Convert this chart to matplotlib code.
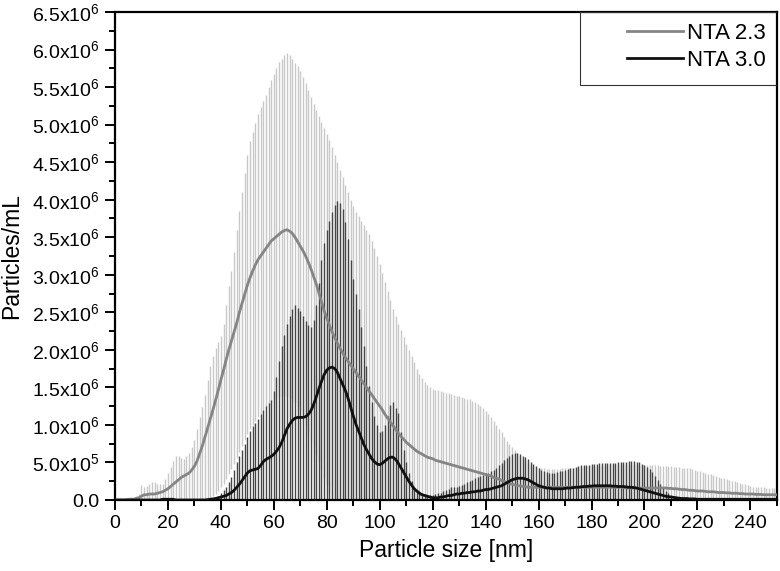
import numpy as np
import matplotlib
matplotlib.use("Agg")
import matplotlib.pyplot as plt
from matplotlib.ticker import MultipleLocator
from matplotlib.patches import Rectangle

plt.rcParams['font.family'] = ['Liberation Sans', 'DejaVu Sans']
plt.rcParams['mathtext.fontset'] = 'custom'
plt.rcParams['mathtext.rm'] = 'Liberation Sans'
plt.rcParams['mathtext.it'] = 'Liberation Sans'

# particle size, nm (one reading per nm)
size_nm = np.arange(0, 251)

# all concentrations below in 1e6 particles/mL
# NTA 2.3: mean curve
nta23_mean = [
    0, 0, 0, 0, 0, 0.01, 0.01, 0.01, 0.02, 0.03,
    0.05, 0.07, 0.07, 0.08, 0.08, 0.08, 0.09, 0.10, 0.11, 0.13,
    0.15, 0.18, 0.21, 0.24, 0.27, 0.30, 0.32, 0.34, 0.36, 0.40,
    0.45, 0.52, 0.62, 0.72, 0.84, 0.96, 1.08, 1.20, 1.33, 1.46,
    1.60, 1.73, 1.87, 2.00, 2.12, 2.24, 2.36, 2.50, 2.62, 2.74,
    2.86, 2.96, 3.05, 3.13, 3.20, 3.25, 3.30, 3.35, 3.40, 3.45,
    3.48, 3.51, 3.54, 3.57, 3.59, 3.60, 3.58, 3.55, 3.50, 3.44,
    3.38, 3.32, 3.25, 3.17, 3.08, 2.98, 2.88, 2.76, 2.64, 2.52,
    2.42, 2.33, 2.24, 2.16, 2.09, 2.02, 1.96, 1.90, 1.85, 1.80,
    1.75, 1.70, 1.65, 1.60, 1.55, 1.50, 1.45, 1.40, 1.35, 1.30,
    1.25, 1.20, 1.14, 1.09, 1.04, 0.99, 0.94, 0.89, 0.85, 0.81,
    0.77, 0.74, 0.71, 0.68, 0.65, 0.63, 0.61, 0.59, 0.57, 0.56,
    0.55, 0.53, 0.52, 0.51, 0.50, 0.49, 0.48, 0.47, 0.46, 0.45,
    0.44, 0.43, 0.42, 0.41, 0.40, 0.39, 0.38, 0.37, 0.36, 0.35,
    0.34, 0.33, 0.32, 0.30, 0.29, 0.28, 0.26, 0.25, 0.23, 0.22,
    0.21, 0.20, 0.19, 0.19, 0.18, 0.18, 0.17, 0.17, 0.17, 0.17,
    0.17, 0.17, 0.17, 0.17, 0.17, 0.17, 0.17, 0.17, 0.17, 0.17,
    0.17, 0.17, 0.17, 0.17, 0.17, 0.17, 0.17, 0.17, 0.17, 0.17,
    0.17, 0.17, 0.17, 0.17, 0.17, 0.17, 0.17, 0.17, 0.17, 0.17,
    0.17, 0.17, 0.17, 0.16, 0.16, 0.16, 0.16, 0.16, 0.16, 0.16,
    0.16, 0.16, 0.16, 0.16, 0.16, 0.16, 0.16, 0.16, 0.16, 0.155,
    0.155, 0.15, 0.15, 0.145, 0.14, 0.14, 0.135, 0.13, 0.13, 0.125,
    0.12, 0.12, 0.12, 0.115, 0.11, 0.11, 0.11, 0.105, 0.10, 0.10,
    0.10, 0.095, 0.095, 0.09, 0.09, 0.09, 0.085, 0.085, 0.08, 0.08,
    0.08, 0.08, 0.075, 0.075, 0.075, 0.07, 0.07, 0.07, 0.07, 0.07,
    0.07,
]
# NTA 2.3: top of error bar
nta23_high = [
    0, 0, 0, 0, 0, 0.03, 0.04, 0.04, 0.05, 0.08,
    0.20, 0.18, 0.19, 0.22, 0.24, 0.24, 0.22, 0.21, 0.22, 0.28,
    0.36, 0.44, 0.52, 0.58, 0.58, 0.56, 0.55, 0.58, 0.62, 0.70,
    0.80, 0.95, 1.10, 1.24, 1.40, 1.60, 1.78, 1.92, 2.02, 2.10,
    2.18, 2.35, 2.60, 2.85, 3.05, 3.30, 3.60, 3.85, 4.10, 4.35,
    4.60, 4.78, 4.90, 5.02, 5.14, 5.24, 5.32, 5.40, 5.50, 5.60,
    5.68, 5.76, 5.83, 5.88, 5.93, 5.95, 5.93, 5.88, 5.82, 5.78,
    5.72, 5.64, 5.56, 5.46, 5.37, 5.28, 5.20, 5.11, 5.03, 4.95,
    4.87, 4.79, 4.70, 4.60, 4.50, 4.40, 4.30, 4.20, 4.10, 4.00,
    3.92, 3.84, 3.78, 3.72, 3.66, 3.60, 3.54, 3.45, 3.35, 3.25,
    3.14, 3.02, 2.90, 2.78, 2.66, 2.55, 2.45, 2.35, 2.26, 2.17,
    2.08, 2.00, 1.92, 1.84, 1.75, 1.68, 1.62, 1.57, 1.53, 1.50,
    1.48, 1.47, 1.46, 1.45, 1.44, 1.43, 1.42, 1.41, 1.40, 1.39,
    1.38, 1.37, 1.36, 1.35, 1.34, 1.32, 1.30, 1.28, 1.25, 1.22,
    1.18, 1.14, 1.10, 1.05, 1.00, 0.95, 0.90, 0.84, 0.79, 0.74,
    0.70, 0.66, 0.62, 0.58, 0.55, 0.52, 0.49, 0.47, 0.45, 0.44,
    0.43, 0.42, 0.42, 0.41, 0.41, 0.41, 0.41, 0.41, 0.41, 0.42,
    0.42, 0.42, 0.43, 0.43, 0.43, 0.44, 0.44, 0.44, 0.44, 0.45,
    0.45, 0.45, 0.45, 0.45, 0.45, 0.45, 0.46, 0.46, 0.46, 0.46,
    0.46, 0.46, 0.46, 0.46, 0.46, 0.46, 0.46, 0.46, 0.46, 0.46,
    0.46, 0.46, 0.46, 0.46, 0.46, 0.46, 0.45, 0.45, 0.45, 0.45,
    0.45, 0.44, 0.44, 0.44, 0.43, 0.43, 0.42, 0.42, 0.41, 0.40,
    0.39, 0.38, 0.37, 0.36, 0.35, 0.34, 0.33, 0.32, 0.31, 0.30,
    0.29, 0.28, 0.27, 0.26, 0.25, 0.24, 0.23, 0.22, 0.21, 0.20,
    0.19, 0.18, 0.18, 0.17, 0.17, 0.17, 0.16, 0.16, 0.16, 0.16,
    0.16,
]
# NTA 2.3: bottom of error bar (0 where it reaches the axis)
nta23_low = [
    0, 0, 0, 0, 0, 0, 0, 0, 0, 0,
    0, 0, 0, 0, 0, 0, 0, 0, 0, 0,
    0, 0, 0, 0, 0, 0, 0, 0, 0, 0,
    0, 0, 0, 0, 0, 0, 0.02, 0.05, 0.08, 0.12,
    0.17, 0.22, 0.28, 0.34, 0.41, 0.48, 0.56, 0.64, 0.72, 0.80,
    0.88, 0.95, 1.00, 1.05, 1.10, 1.15, 1.20, 1.24, 1.27, 1.30,
    1.33, 1.35, 1.37, 1.38, 1.38, 1.38, 1.36, 1.33, 1.30, 1.25,
    1.20, 1.10, 1.00, 0.90, 0.80, 0.70, 0.60, 0.50, 0.40, 0.30,
    0.20, 0.10, 0, 0, 0, 0, 0, 0, 0, 0,
    0, 0, 0, 0, 0, 0, 0, 0, 0, 0,
    0, 0, 0, 0, 0, 0, 0, 0, 0, 0,
    0, 0, 0, 0, 0, 0, 0, 0, 0, 0,
    0, 0, 0, 0, 0, 0, 0, 0, 0, 0,
    0, 0, 0, 0, 0, 0, 0, 0, 0, 0,
    0, 0, 0, 0, 0, 0, 0, 0, 0, 0,
    0, 0, 0, 0, 0, 0, 0, 0, 0, 0,
    0, 0, 0, 0, 0, 0, 0, 0, 0, 0,
    0, 0, 0, 0, 0, 0, 0, 0, 0, 0,
    0, 0, 0, 0, 0, 0, 0, 0, 0, 0,
    0, 0, 0, 0, 0, 0, 0, 0, 0, 0,
    0, 0, 0, 0, 0, 0, 0, 0, 0, 0,
    0, 0, 0, 0, 0, 0, 0, 0, 0, 0,
    0, 0, 0, 0, 0, 0, 0, 0, 0, 0,
    0, 0, 0, 0, 0, 0, 0, 0, 0, 0,
    0, 0, 0, 0, 0, 0, 0, 0, 0, 0,
    0,
]
# NTA 3.0: mean curve
nta30_mean = [
    0, 0, 0, 0, 0, 0, 0, 0, 0, 0,
    0, 0, 0, 0, 0, 0, 0, 0, 0.01, 0.01,
    0.01, 0.01, 0.01, 0, 0, 0, 0, 0, 0, 0,
    0, 0, 0, 0, 0, 0.005, 0.01, 0.015, 0.02, 0.03,
    0.04, 0.05, 0.06, 0.08, 0.10, 0.13, 0.17, 0.21, 0.26, 0.31,
    0.36, 0.39, 0.40, 0.41, 0.42, 0.46, 0.51, 0.54, 0.56, 0.58,
    0.61, 0.65, 0.70, 0.77, 0.86, 0.95, 1.01, 1.06, 1.09, 1.10,
    1.10, 1.10, 1.11, 1.14, 1.19, 1.27, 1.37, 1.48, 1.58, 1.67,
    1.73, 1.76, 1.77, 1.75, 1.70, 1.62, 1.54, 1.46, 1.36, 1.24,
    1.12, 1.01, 0.92, 0.83, 0.74, 0.67, 0.61, 0.55, 0.51, 0.48,
    0.47, 0.49, 0.52, 0.55, 0.57, 0.57, 0.54, 0.49, 0.43, 0.37,
    0.31, 0.25, 0.20, 0.15, 0.12, 0.09, 0.07, 0.06, 0.05, 0.04,
    0.03, 0.03, 0.03, 0.04, 0.04, 0.05, 0.06, 0.06, 0.07, 0.08,
    0.08, 0.09, 0.09, 0.10, 0.10, 0.11, 0.11, 0.12, 0.12, 0.13,
    0.14, 0.14, 0.15, 0.16, 0.17, 0.18, 0.19, 0.21, 0.23, 0.25,
    0.27, 0.28, 0.29, 0.29, 0.29, 0.28, 0.27, 0.25, 0.23, 0.21,
    0.19, 0.18, 0.17, 0.16, 0.16, 0.15, 0.15, 0.15, 0.15, 0.15,
    0.155, 0.16, 0.16, 0.165, 0.17, 0.17, 0.175, 0.18, 0.18, 0.185,
    0.185, 0.19, 0.19, 0.19, 0.19, 0.19, 0.19, 0.19, 0.185, 0.185,
    0.18, 0.18, 0.18, 0.175, 0.17, 0.17, 0.165, 0.16, 0.15, 0.14,
    0.13, 0.12, 0.11, 0.10, 0.09, 0.08, 0.07, 0.06, 0.05, 0.045,
    0.04, 0.035, 0.03, 0.025, 0.02, 0.02, 0.02, 0.015, 0.015, 0.015,
    0.01, 0.01, 0.01, 0.01, 0.01, 0.01, 0.01, 0.01, 0.01, 0.01,
    0.01, 0.01, 0.01, 0.01, 0.01, 0.01, 0.01, 0.01, 0.01, 0.01,
    0.01, 0.01, 0.01, 0.01, 0.01, 0.01, 0.01, 0.01, 0.01, 0.01,
    0.01,
]
# NTA 3.0: top of error bar (bottom reaches the axis)
nta30_high = [
    0, 0, 0, 0, 0, 0, 0, 0, 0, 0,
    0, 0, 0, 0, 0, 0, 0, 0, 0.01, 0.02,
    0.02, 0.02, 0.01, 0, 0, 0, 0, 0, 0, 0,
    0, 0, 0, 0, 0, 0.01, 0.02, 0.03, 0.04, 0.06,
    0.09, 0.13, 0.18, 0.24, 0.31, 0.40, 0.50, 0.58, 0.66, 0.74,
    0.84, 0.92, 0.98, 1.03, 1.08, 1.14, 1.20, 1.25, 1.29, 1.33,
    1.45, 1.64, 1.85, 2.05, 2.20, 2.35, 2.45, 2.55, 2.60, 2.56,
    2.52, 2.45, 2.38, 2.33, 2.31, 2.40, 2.60, 2.89, 3.20, 3.42,
    3.60, 3.72, 3.83, 3.93, 3.98, 3.96, 3.88, 3.70, 3.47, 3.20,
    2.95, 2.75, 2.55, 2.30, 2.05, 1.78, 1.52, 1.30, 1.12, 1.00,
    0.90, 0.92, 1.00, 1.12, 1.26, 1.30, 1.22, 1.16, 0.90, 0.67,
    0.50, 0.36, 0.25, 0.18, 0.14, 0.12, 0.10, 0.08, 0.07, 0.07,
    0.07, 0.08, 0.09, 0.10, 0.12, 0.14, 0.15, 0.17, 0.18, 0.18,
    0.19, 0.20, 0.22, 0.24, 0.26, 0.27, 0.29, 0.31, 0.32, 0.33,
    0.34, 0.36, 0.38, 0.40, 0.43, 0.46, 0.49, 0.53, 0.56, 0.59,
    0.61, 0.62, 0.62, 0.61, 0.59, 0.57, 0.54, 0.51, 0.48, 0.45,
    0.42, 0.40, 0.38, 0.37, 0.36, 0.36, 0.36, 0.37, 0.38, 0.39,
    0.40, 0.41, 0.42, 0.43, 0.44, 0.45, 0.46, 0.46, 0.47, 0.47,
    0.48, 0.48, 0.48, 0.49, 0.49, 0.49, 0.49, 0.49, 0.49, 0.49,
    0.50, 0.50, 0.51, 0.51, 0.52, 0.52, 0.52, 0.51, 0.50, 0.48,
    0.46, 0.44, 0.41, 0.37, 0.32, 0.27, 0.22, 0.17, 0.12, 0.09,
    0.07, 0.05, 0.04, 0.03, 0.03, 0.02, 0.02, 0.02, 0.02, 0.02,
    0.02, 0.02, 0.02, 0.02, 0.02, 0.02, 0.02, 0.02, 0.02, 0.02,
    0.02, 0.02, 0.02, 0.02, 0.02, 0.02, 0.02, 0.02, 0.02, 0.02,
    0.02, 0.02, 0.02, 0.02, 0.02, 0.02, 0.02, 0.02, 0.02, 0.02,
    0.02,
]

series_labels = ['NTA 2.3', 'NTA 3.0']
y_tick_values = [0, 0.5e6, 1.0e6, 1.5e6, 2.0e6, 2.5e6, 3.0e6, 3.5e6,
                 4.0e6, 4.5e6, 5.0e6, 5.5e6, 6.0e6, 6.5e6]
y_tick_labels = ['0.0', r'5.0x10$^5$', r'1.0x10$^6$', r'1.5x10$^6$',
                 r'2.0x10$^6$', r'2.5x10$^6$', r'3.0x10$^6$', r'3.5x10$^6$',
                 r'4.0x10$^6$', r'4.5x10$^6$', r'5.0x10$^6$', r'5.5x10$^6$',
                 r'6.0x10$^6$', r'6.5x10$^6$']

scale = 1e6
m23 = np.array(nta23_mean) * scale
h23 = np.array(nta23_high) * scale
l23 = np.array(nta23_low) * scale
m30 = np.array(nta30_mean) * scale
h30 = np.array(nta30_high) * scale

fig = plt.figure(figsize=(7.8, 5.71), dpi=100)
ax = fig.add_axes([0.1474, 0.1243, 0.8486, 0.8547])

# error bars first, then the mean curves on top
ax.vlines(size_nm, l23, h23, color='#c8c8c8', linewidth=1.0, zorder=1)
ax.vlines(size_nm, np.zeros_like(h30), h30, color='#454545', linewidth=1.0, zorder=2)
ax.plot(size_nm, m23, color='#858585', linewidth=2.0, label=series_labels[0], zorder=3)
ax.plot(size_nm, m30, color='#101010', linewidth=2.0, label=series_labels[1], zorder=4)

ax.set_xlim(0, 250)
ax.set_ylim(0, 6.5e6)
ax.xaxis.set_major_locator(MultipleLocator(20))
ax.xaxis.set_minor_locator(MultipleLocator(10))
ax.set_yticks(y_tick_values)
ax.set_yticklabels(y_tick_labels)
ax.yaxis.set_minor_locator(MultipleLocator(0.25e6))

ax.tick_params(which='both', direction='out', top=False, right=False,
               width=1.4, labelsize=14, colors='black')
ax.tick_params(which='major', length=7, pad=4)
ax.tick_params(which='minor', length=4)
for sp in ax.spines.values():
    sp.set_linewidth(1.6)

ax.set_xlabel('Particle size [nm]', fontsize=16.5, labelpad=5)
ax.set_ylabel('Particles/mL', fontsize=16.5, labelpad=6)

# thin box around the legend area
ax.add_patch(Rectangle((0.702, 0.85), 0.298, 0.15, transform=ax.transAxes,
                       fill=False, edgecolor='#333333', linewidth=0.8,
                       zorder=5))
leg = ax.legend(loc='upper right', fontsize=16, frameon=False,
                handlelength=2.5, handletextpad=0.2, labelspacing=0.25,
                borderaxespad=0.5, borderpad=0.0)

fig.savefig('out.png', dpi=100)
